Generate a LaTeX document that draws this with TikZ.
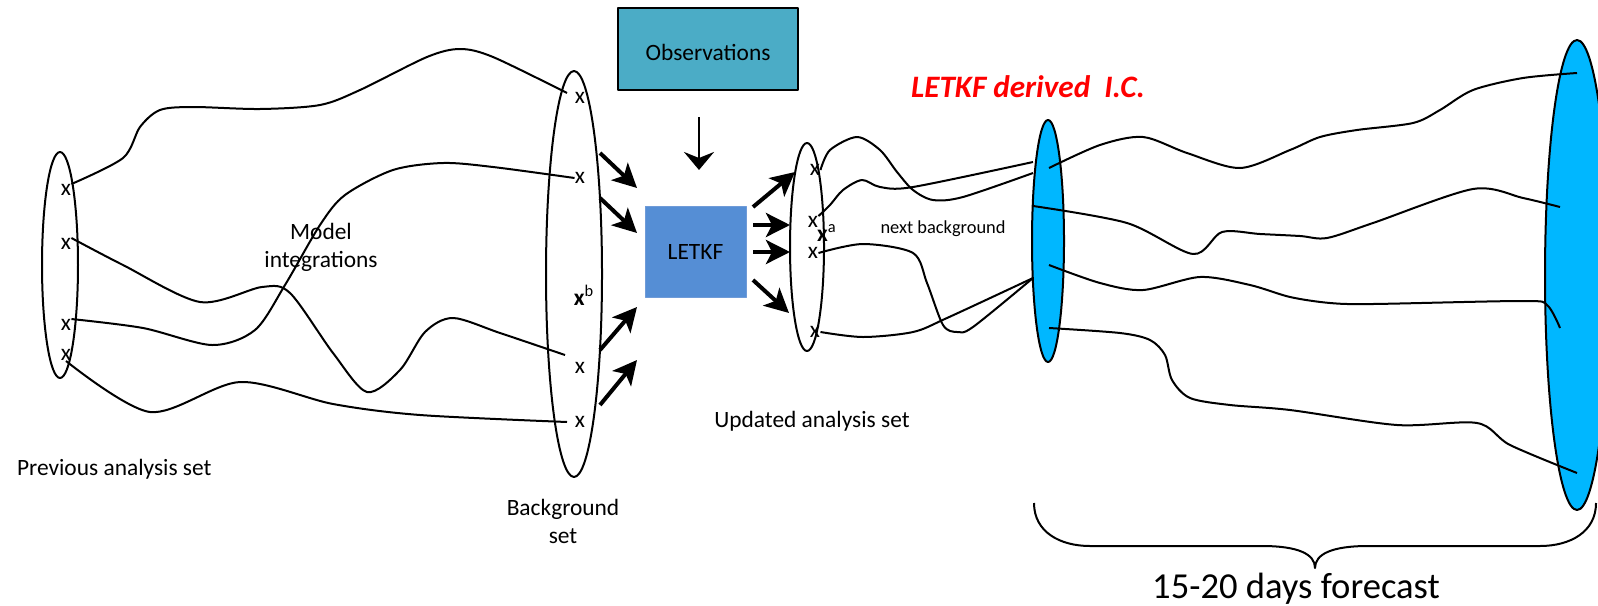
\documentclass[tikz,border=0pt]{standalone}
\usepackage{fontspec}
\setmainfont{Carlito}
\usepackage{xcolor}
\usetikzlibrary{arrows.meta}

\definecolor{obsteal}{HTML}{4BACC6}
\definecolor{letkfblue}{HTML}{558ED5}
\definecolor{letkfedge}{HTML}{6F9BD8}
\definecolor{icblue}{HTML}{00B7FF}

\begin{document}
\begin{tikzpicture}[x=0.5pt,y=-0.5pt,line join=round,
  xmark/.style={inner sep=0pt,font=\fontsize{11.7}{14}\selectfont},
  lbl/.style={align=center,font=\fontsize{11.7}{14}\selectfont},
  traj/.style={line width=1pt},
  setring/.style={line width=1pt},
  fatarrow/.style={-{Stealth[length=12pt,width=12pt,inset=3pt]},line width=2pt}]
  \useasboundingbox (0,0) rectangle (1598,605);

  % ensemble sets
  \draw[setring] (60,265) ellipse [x radius=9pt,y radius=56.5pt];
  \draw[setring] (574,274) ellipse [x radius=14pt,y radius=101.5pt];
  \draw[setring] (807,247) ellipse [x radius=8.5pt,y radius=52pt];
  \draw[setring,fill=icblue] (1048,241) ellipse [x radius=8pt,y radius=60.5pt];
  \draw[setring,fill=icblue] (1577,275) ellipse [x radius=16pt,y radius=117.5pt];

  % members
  \node[xmark] (P1) at (66,190) {x};
  \node[xmark] (P2) at (66,244) {x};
  \node[xmark] (P3) at (66,325) {x};
  \node[xmark] (P4) at (66,355) {x};
  \node[xmark] (B1) at (580,98) {x};
  \node[xmark] (B2) at (580,178) {x};
  \node[xmark] (XB) at (584,295) {\textbf{x}\textsuperscript{b}};
  \node[xmark] (B3) at (580,368) {x};
  \node[xmark] (B4) at (580,422) {x};
  \node[xmark] (A1) at (815,170) {x};
  \node[xmark] (A2) at (813,222) {x};
  \node[xmark] (XA) at (827,233) {\textbf{x}\textsuperscript{a}};
  \node[xmark] (A3) at (813,253) {x};
  \node[xmark] (A4) at (815,332) {x};

  % model integrations
  \draw[traj] plot[smooth] coordinates {(P1.north east) (123,158) (140,127) (160,110) (193,107) (260,109) (320,105) (360,90) (427,57) (460,49) (493,57) (567,93)};
  \draw[traj] plot[smooth] coordinates {(P2.north east) (123,265) (200,302) (262,287) (290,293) (333,353) (367,392) (400,370) (425,332) (453,318) (500,333) (565,355)};
  \draw[traj] plot[smooth] coordinates {(P3.north east) (143,328) (212,345) (255,330) (285,285) (320,225) (345,195) (393,170) (443,163) (493,167) (B2.west)};
  \draw[traj] plot[smooth] coordinates {(P4.south) (150,412) (240,382) (333,404) (420,415) (567,422)};

  % towards the I.C.
  \draw[traj] plot[smooth] coordinates {(A1.east) (830,150) (857,137) (880,150) (897,172) (913,190) (933,200) (963,197) (1033,173)};
  \draw[traj] plot[smooth] coordinates {(A2.north east) (830,205) (843,190) (862,180) (880,187) (913,187) (1033,162)};
  \draw[traj] plot[smooth] coordinates {(A3.east) (863,244) (913,253) (927,283) (943,325) (957,332) (973,327) (1033,278)};
  \draw[traj] plot[smooth] coordinates {(A4.east) (863,337) (913,332) (947,318) (1033,278)};

  % forecasts
  \draw[traj] plot[smooth] coordinates {(1049,168) (1100,145) (1143,137) (1187,153) (1240,168) (1290,150) (1320,137) (1357,130) (1413,123) (1440,110) (1473,90) (1523,78) (1577,73)};
  \draw[traj] plot[smooth] coordinates {(1033,206) (1127,223) (1193,254) (1222,232) (1260,234) (1300,236) (1327,238) (1373,223) (1473,189) (1523,198) (1560,207)};
  \draw[traj] plot[smooth] coordinates {(1049,265) (1100,283) (1143,290) (1200,277) (1250,285) (1290,297) (1330,303) (1373,304) (1523,301) (1547,305) (1560,328)};
  \draw[traj] plot[smooth] coordinates {(1049,328) (1120,333) (1150,340) (1165,355) (1172,380) (1190,398) (1230,405) (1290,410) (1397,425) (1477,423) (1510,445) (1577,473)};

  % boxes
  \node[draw=black,line width=1pt,fill=obsteal,minimum width=90pt,minimum height=41pt,lbl,text height=12pt] (obs) at (708,49) {Observations};
  \node[draw=letkfedge,line width=0.5pt,fill=letkfblue,minimum width=50.5pt,minimum height=45.5pt,lbl] (letkf) at (695.5,251.5) {LETKF};

  % arrows
  \draw[-{Stealth[length=9pt,width=15pt,inset=3pt]},line width=1.4pt] (699,117) -- (699,170);
  \draw[fatarrow] (600,153) -- (637,188);
  \draw[fatarrow] (600,198) -- (637,233);
  \draw[fatarrow] (600,350) -- (637,307);
  \draw[fatarrow] (600,405) -- (637,360);
  \draw[fatarrow] (753,207) -- (795,172);
  \draw[fatarrow] (753,225) -- (790,225);
  \draw[fatarrow] (753,252) -- (790,252);
  \draw[fatarrow] (753,280) -- (789,313);

  % brace
  \draw[line width=1pt] (1034,503) .. controls (1034,532) and (1060,546) .. (1090,546) -- (1262,546) .. controls (1298,546) and (1315,554) .. (1315,568) .. controls (1315,554) and (1332,546) .. (1368,546) -- (1540,546) .. controls (1570,546) and (1596,532) .. (1596,503);

  % labels
  \node[lbl,anchor=west] (prevlbl) at (10,469) {Previous analysis set};
  \node[lbl] (modlbl) at (321,247) {Model\\integrations};
  \node[lbl] (bglbl) at (563,521) {Background\\set};
  \node[lbl] (updlbl) at (812,421) {Updated analysis set};
  \node[font=\fontsize{9.2}{11}\selectfont] (nextlbl) at (943,229) {next background};
  \node[text=red,font=\fontsize{15.6}{18}\selectfont\bfseries\itshape] (iclbl) at (1028,87) {LETKF derived\ \ I.C.};
  \node[font=\fontsize{18.3}{22}\selectfont] (fclbl) at (1296,589) {15-20 days forecast};
\end{tikzpicture}
\end{document}
